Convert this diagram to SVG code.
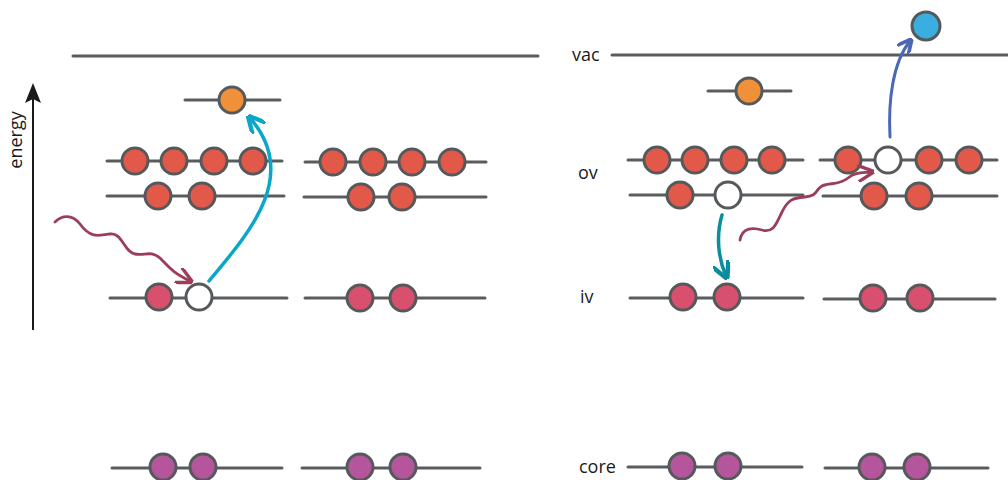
<svg xmlns="http://www.w3.org/2000/svg" width="1008" height="480" viewBox="0 0 1008 480">
<style>
.lv{stroke:#585c5e;stroke-width:3;stroke-linecap:round;fill:none}
circle{stroke:#55595b;stroke-width:3}
.r{fill:#e2594a}.o{fill:#f0913a}.p{fill:#d94f6e}.m{fill:#b5559c}.b{fill:#3aaee0}.w{fill:#fff}
.lbl{font-family:"Open Sans","Liberation Sans",sans-serif;font-size:18px;fill:#1a1a1a}
</style>
<defs>
<marker id="ac" viewBox="0 0 10 10" refX="8" refY="5" markerWidth="5" markerHeight="5" orient="auto"><path d="M0,0 L10,5 L0,10" fill="none" stroke="#0aa7c9" stroke-width="2.5"/></marker>
<marker id="at" viewBox="0 0 10 10" refX="8" refY="5" markerWidth="5" markerHeight="5" orient="auto"><path d="M0,0 L10,5 L0,10" fill="none" stroke="#0a8e9f" stroke-width="2.5"/></marker>
<marker id="ab" viewBox="0 0 10 10" refX="8" refY="5" markerWidth="5" markerHeight="5" orient="auto"><path d="M0,0 L10,5 L0,10" fill="none" stroke="#4b68b8" stroke-width="2.5"/></marker>
<marker id="aw" viewBox="0 0 10 10" refX="8" refY="5" markerWidth="6" markerHeight="6" orient="auto"><path d="M0,0 L10,5 L0,10" fill="none" stroke="#9c3d5a" stroke-width="2"/></marker>
</defs>

<g id="axis">
<line x1="33" y1="330" x2="33" y2="96" stroke="#1a1a1a" stroke-width="2"/>
<path d="M33,83 L41,103 L33,99 L25,103 Z" fill="#1a1a1a"/>
<text class="lbl" transform="translate(22,140) rotate(-90)" text-anchor="middle" font-size="17">energy</text>
</g>

<g id="labels">
<text class="lbl" x="572" y="61">vac</text>
<text class="lbl" x="578" y="179">ov</text>
<text class="lbl" x="580" y="303">iv</text>
<text class="lbl" x="579" y="473">core</text>
</g>

<g id="left-vac"><line class="lv" x1="73" y1="56" x2="538" y2="56"/></g>
<g id="left-excited"><line class="lv" x1="185" y1="100" x2="280" y2="100"/><circle class="o" cx="232" cy="100" r="13"/></g>
<g id="left-ov1a"><line class="lv" x1="107" y1="161" x2="282" y2="161"/>
<circle class="r" cx="135" cy="161" r="13"/><circle class="r" cx="174" cy="161" r="13"/><circle class="r" cx="214" cy="161" r="13"/><circle class="r" cx="253" cy="161" r="13"/></g>
<g id="left-ov2a"><line class="lv" x1="107" y1="196" x2="284" y2="196"/>
<circle class="r" cx="158" cy="196" r="13"/><circle class="r" cx="202" cy="196" r="13"/></g>
<g id="left-ov1b"><line class="lv" x1="305" y1="162" x2="486" y2="162"/>
<circle class="r" cx="333" cy="162" r="13"/><circle class="r" cx="373" cy="162" r="13"/><circle class="r" cx="412" cy="162" r="13"/><circle class="r" cx="452" cy="162" r="13"/></g>
<g id="left-ov2b"><line class="lv" x1="304" y1="197" x2="486" y2="197"/>
<circle class="r" cx="361" cy="197" r="13"/><circle class="r" cx="402" cy="197" r="13"/></g>
<g id="left-iva"><line class="lv" x1="110" y1="298" x2="287" y2="298"/>
<circle class="p" cx="159" cy="297" r="13"/><circle class="w" cx="199" cy="297" r="13"/></g>
<g id="left-ivb"><line class="lv" x1="305" y1="298" x2="485" y2="298"/>
<circle class="p" cx="360" cy="298" r="13"/><circle class="p" cx="403" cy="298" r="13"/></g>
<g id="left-corea"><line class="lv" x1="112" y1="468" x2="282" y2="468"/>
<circle class="m" cx="163" cy="467" r="13"/><circle class="m" cx="203" cy="467" r="13"/></g>
<g id="left-coreb"><line class="lv" x1="302" y1="468" x2="480" y2="468"/>
<circle class="m" cx="360" cy="467" r="13"/><circle class="m" cx="403" cy="467" r="13"/></g>

<g id="right-vac"><line class="lv" x1="612" y1="55" x2="1008" y2="55"/></g>
<g id="right-free"><circle class="b" cx="926" cy="26" r="14"/></g>
<g id="right-excited"><line class="lv" x1="708" y1="91" x2="791" y2="91"/><circle class="o" cx="749" cy="91" r="13"/></g>
<g id="right-ov1a"><line class="lv" x1="628" y1="160" x2="803" y2="160"/>
<circle class="r" cx="657" cy="160" r="13"/><circle class="r" cx="695" cy="160" r="13"/><circle class="r" cx="734" cy="160" r="13"/><circle class="r" cx="772" cy="160" r="13"/></g>
<g id="right-ov1b"><line class="lv" x1="820" y1="160" x2="997" y2="160"/>
<circle class="r" cx="848" cy="160" r="13"/><circle class="w" cx="888" cy="160" r="13"/><circle class="r" cx="929" cy="160" r="13"/><circle class="r" cx="969" cy="160" r="13"/></g>
<g id="right-ov2a"><line class="lv" x1="630" y1="195" x2="803" y2="195"/>
<circle class="r" cx="680" cy="195" r="13"/><circle class="w" cx="728" cy="195" r="13"/></g>
<g id="right-ov2b"><line class="lv" x1="823" y1="196" x2="997" y2="196"/>
<circle class="r" cx="874" cy="196" r="13"/><circle class="r" cx="919" cy="196" r="13"/></g>
<g id="right-iva"><line class="lv" x1="630" y1="298" x2="803" y2="298"/>
<circle class="p" cx="683" cy="297" r="13"/><circle class="p" cx="727" cy="297" r="13"/></g>
<g id="right-ivb"><line class="lv" x1="824" y1="299" x2="995" y2="299"/>
<circle class="p" cx="873" cy="298" r="13"/><circle class="p" cx="920" cy="298" r="13"/></g>
<g id="right-corea"><line class="lv" x1="628" y1="467" x2="802" y2="467"/>
<circle class="m" cx="682" cy="466" r="13"/><circle class="m" cx="728" cy="466" r="13"/></g>
<g id="right-coreb"><line class="lv" x1="825" y1="468" x2="988" y2="468"/>
<circle class="m" cx="872" cy="467" r="13"/><circle class="m" cx="917" cy="467" r="13"/></g>

<g id="connectors" fill="none" stroke-linecap="round" stroke-linejoin="round">
<path d="M209,281 C250,232 300,175 250,118" stroke="#0aa7c9" stroke-width="3.5" marker-end="url(#ac)"/>
<path d="M55,222 C62,215 72,214 80,224 C90,238 98,236 110,234 C122,232 124,252 135,254 C145,256 150,250 160,258 C170,268 172,272 190,281" stroke="#9c3d5a" stroke-width="2.8" marker-end="url(#aw)"/>
<path d="M722,215 C716,235 718,258 726,276" stroke="#0a8e9f" stroke-width="3.5" marker-end="url(#at)"/>
<path d="M890,137 C888,100 893,62 910,41" stroke="#4b68b8" stroke-width="3" marker-end="url(#ab)"/>
<path d="M740,240 C742,228 752,227 762,230 C774,233 776,224 782,212 C788,200 792,198 805,197 C818,196 815,190 822,186 C830,182 838,186 848,178 C855,172 862,173 871,172" stroke="#9c3d5a" stroke-width="2.8" marker-end="url(#aw)"/>
</g>
</svg>
